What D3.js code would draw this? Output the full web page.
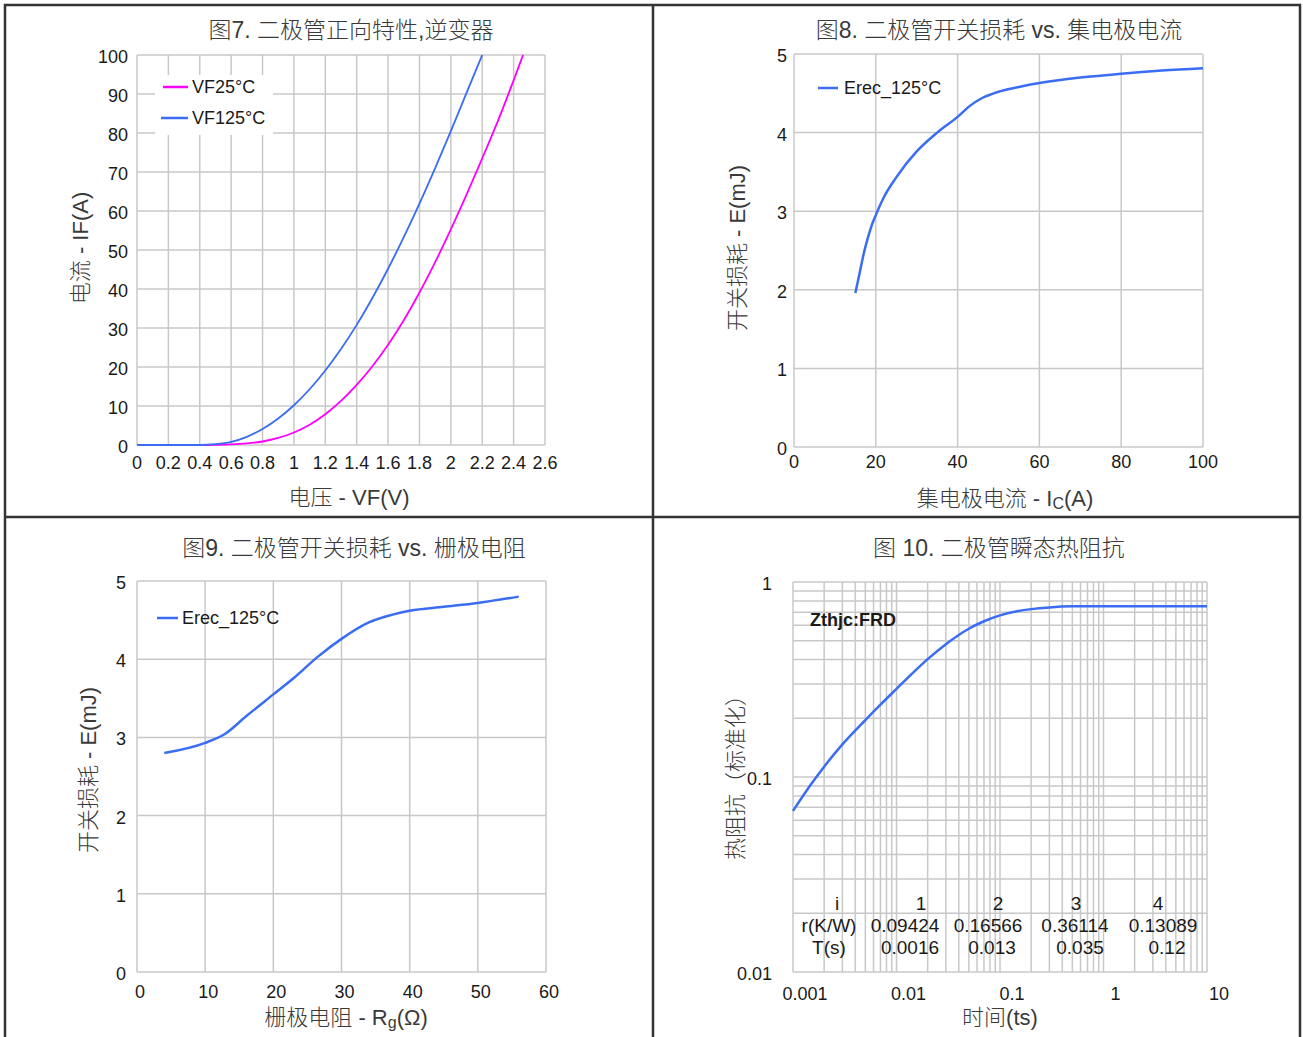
<!DOCTYPE html>
<html>
<head>
<meta charset="utf-8">
<script src="https://cdn.jsdelivr.net/npm/d3@7"></script>
<style>
  body { margin: 0; background: #fff; }
  text { font-family: "Liberation Sans", Arial, "Noto Sans CJK SC", sans-serif; fill: #1a1a1a; }
  .cjk { font-family: "Liberation Sans", "Noto Sans CJK SC", sans-serif; fill: #3a3a3a; font-weight: 300; }
</style>
</head>
<body>
<script>
// ---- data ----
// fig 7: forward characteristic, voltage (V) vs current (A)
const vf25V  = [0, 0.4, 0.5, 0.6, 0.7, 0.8, 0.9, 1.0, 1.1, 1.2, 1.3, 1.4, 1.5, 1.6, 1.7, 1.8, 1.9, 2.0, 2.1, 2.2, 2.3, 2.4, 2.46];
const vf25I  = [0, 0, 0.05, 0.15, 0.4, 0.9, 1.8, 3.2, 5.2, 7.9, 11.3, 15.4, 20.2, 25.7, 32, 39.1, 46.9, 55.3, 64.2, 73.5, 83.1, 93.5, 100];
const vf125V = [0, 0.4, 0.5, 0.6, 0.7, 0.8, 0.9, 1.0, 1.1, 1.2, 1.3, 1.4, 1.5, 1.6, 1.7, 1.8, 1.9, 2.0, 2.1, 2.2];
const vf125I = [0, 0, 0.2, 0.8, 2.1, 4.1, 6.8, 10.2, 14.3, 19.1, 24.6, 30.8, 37.7, 45.2, 53.3, 61.9, 71, 80.5, 90.3, 100];
const fig7XTicks = [0, 0.2, 0.4, 0.6, 0.8, 1, 1.2, 1.4, 1.6, 1.8, 2, 2.2, 2.4, 2.6];
const fig7YTicks = [0, 10, 20, 30, 40, 50, 60, 70, 80, 90, 100];

// fig 8: Erec vs collector current
const icA    = [15, 16, 17, 18, 19, 20, 22, 25, 30, 35, 40, 43, 46, 50, 55, 60, 70, 80, 90, 100];
const erecIc = [1.96, 2.2, 2.45, 2.65, 2.82, 2.95, 3.18, 3.43, 3.76, 4.0, 4.2, 4.34, 4.44, 4.52, 4.58, 4.63, 4.7, 4.75, 4.79, 4.82];
const fig8XTicks = [0, 20, 40, 60, 80, 100];
const eTicks = [0, 1, 2, 3, 4, 5];

// fig 9: Erec vs gate resistance
const rgOhm  = [4, 10, 13, 16, 20, 23, 26.5, 30, 34, 37.5, 40, 45, 50, 56];
const erecRg = [2.8, 2.93, 3.05, 3.27, 3.55, 3.76, 4.03, 4.26, 4.47, 4.57, 4.62, 4.67, 4.72, 4.8];
const fig9XTicks = [0, 10, 20, 30, 40, 50, 60];

// fig 10: transient thermal impedance
const timeS = [0.001, 0.0015, 0.002, 0.003, 0.005, 0.007, 0.01, 0.015, 0.02, 0.03, 0.05, 0.07, 0.1, 0.15, 0.2, 0.3, 0.5, 1, 2, 5, 10];
const zthjc = [0.067, 0.092, 0.113, 0.147, 0.196, 0.235, 0.283, 0.349, 0.402, 0.480, 0.576, 0.629, 0.674, 0.710, 0.726, 0.741, 0.750, 0.752, 0.752, 0.752, 0.752];
const fig10XTicks = [0.001, 0.01, 0.1, 1, 10];
const fig10YTicks = [0.01, 0.1, 1];
const tableHead = ["i", "1", "2", "3", "4"];
const tableR    = ["r(K/W)", "0.09424", "0.16566", "0.36114", "0.13089"];
const tableT    = ["T(s)", "0.0016", "0.013", "0.035", "0.12"];

const W = 1303, H = 1037;
const gridColor = "#c8c8c8";
const blue = "#3a6cf4";
const magenta = "#ff00ff";

// table column centres (layout)
const tableColX = [
  [837, 921, 998, 1076, 1158],
  [829, 905, 988, 1075, 1163],
  [829, 910, 992, 1080, 1167]
];

const svg = d3.select("body").append("svg").attr("width", W).attr("height", H);

// frame
svg.append("rect").attr("x", 5).attr("y", 5).attr("width", 1295).attr("height", 1040)
  .attr("fill", "none").attr("stroke", "#333").attr("stroke-width", 2.5);
svg.append("line").attr("x1", 653).attr("x2", 653).attr("y1", 5).attr("y2", H)
  .attr("stroke", "#333").attr("stroke-width", 2.5);
svg.append("line").attr("x1", 5).attr("x2", 1300).attr("y1", 517).attr("y2", 517)
  .attr("stroke", "#333").attr("stroke-width", 2.5);

function grid(g, x, y, xs, ys) {
  g.selectAll(null).data(xs).enter().append("line")
    .attr("x1", d => x(d)).attr("x2", d => x(d)).attr("y1", y.range()[0]).attr("y2", y.range()[1])
    .attr("stroke", gridColor).attr("stroke-width", 1.5);
  g.selectAll(null).data(ys).enter().append("line")
    .attr("y1", d => y(d)).attr("y2", d => y(d)).attr("x1", x.range()[0]).attr("x2", x.range()[1])
    .attr("stroke", gridColor).attr("stroke-width", 1.5);
}

function tickLabels(g, x, y, xs, ys, opt) {
  g.selectAll(null).data(xs).enter().append("text")
    .attr("x", d => x(d) + (opt.xdx || 0)).attr("y", y.range()[0] + opt.xdy)
    .attr("text-anchor", "middle").attr("dominant-baseline", "central")
    .attr("font-size", 18).text(opt.xfmt || (d => d));
  g.selectAll(null).data(ys).enter().append("text")
    .attr("x", x.range()[0] - opt.ydx).attr("y", d => y(d) + 2)
    .attr("text-anchor", "end").attr("dominant-baseline", "central")
    .attr("font-size", 18).text(opt.yfmt || (d => d));
}

function title(txt, cx, cy) {
  svg.append("text").attr("class", "cjk").attr("x", cx).attr("y", cy)
    .attr("text-anchor", "middle").attr("dominant-baseline", "central")
    .attr("font-size", 23).text(txt);
}

function yTitle(txt, cx, cy) {
  svg.append("text").attr("class", "cjk")
    .attr("transform", `translate(${cx},${cy}) rotate(-90)`)
    .attr("text-anchor", "middle").attr("dominant-baseline", "central")
    .attr("font-size", 22).text(txt);
}

function xTitle(cx, cy) {
  return svg.append("text").attr("class", "cjk").attr("x", cx).attr("y", cy)
    .attr("text-anchor", "middle").attr("dominant-baseline", "central").attr("font-size", 22);
}

function legendEntry(x0, len, tx, yc, color, label) {
  svg.append("line").attr("x1", x0).attr("x2", x0 + len).attr("y1", yc).attr("y2", yc)
    .attr("stroke", color).attr("stroke-width", 2.5);
  svg.append("text").attr("x", tx).attr("y", yc).attr("dominant-baseline", "central")
    .attr("font-size", 18).text(label);
}

function curve(x, y, xs, ys, color, w) {
  const pts = xs.map((d, i) => [d, ys[i]]);
  svg.append("path").datum(pts)
    .attr("fill", "none").attr("stroke", color).attr("stroke-width", w)
    .attr("d", d3.line().x(d => x(d[0])).y(d => y(d[1])).curve(d3.curveMonotoneX));
}

// ---------- Fig 7 ----------
{
  const x = d3.scaleLinear().domain([0, 2.6]).range([137, 545]);
  const y = d3.scaleLinear().domain([0, 100]).range([445, 55]);
  const g = svg.append("g");
  grid(g, x, y, fig7XTicks, fig7YTicks);
  // legend box hides grid
  svg.append("rect").attr("x", 155).attr("y", 75).attr("width", 118).attr("height", 60).attr("fill", "#fff");
  tickLabels(g, x, y, fig7XTicks, fig7YTicks, { xdy: 18, ydx: 9 });
  curve(x, y, vf25V, vf25I, magenta, 1.8);
  curve(x, y, vf125V, vf125I, blue, 1.8);
  legendEntry(163, 25, 192, 87, magenta, "VF25°C");
  legendEntry(161, 27, 192, 118, blue, "VF125°C");
  title("图7. 二极管正向特性,逆变器", 351, 30);
  yTitle("电流 - IF(A)", 80, 248);
  xTitle(349, 497).text("电压 - VF(V)");
}

// ---------- Fig 8 ----------
{
  const x = d3.scaleLinear().domain([0, 100]).range([794, 1203]);
  const y = d3.scaleLinear().domain([0, 5]).range([447, 54]);
  const g = svg.append("g");
  grid(g, x, y, fig8XTicks, eTicks);
  tickLabels(g, x, y, fig8XTicks, eTicks, { xdy: 15, ydx: 7 });
  curve(x, y, icA, erecIc, blue, 2.5);
  legendEntry(818, 20, 844, 88, blue, "Erec_125°C");
  title("图8. 二极管开关损耗 vs. 集电极电流", 999, 30);
  yTitle("开关损耗 - E(mJ)", 737, 248);
  const t = xTitle(1005, 498);
  t.append("tspan").text("集电极电流 - I");
  t.append("tspan").attr("font-size", 16).attr("dy", 5).text("C");
  t.append("tspan").attr("dy", -5).text("(A)");
}

// ---------- Fig 9 ----------
{
  const x = d3.scaleLinear().domain([0, 60]).range([137, 546]);
  const y = d3.scaleLinear().domain([0, 5]).range([972, 581]);
  const g = svg.append("g");
  grid(g, x, y, fig9XTicks, eTicks);
  tickLabels(g, x, y, fig9XTicks, eTicks, { xdy: 20, xdx: 3, ydx: 11 });
  curve(x, y, rgOhm, erecRg, blue, 2.5);
  legendEntry(157, 21, 182, 618, blue, "Erec_125°C");
  title("图9. 二极管开关损耗 vs. 栅极电阻", 354, 548);
  yTitle("开关损耗 - E(mJ)", 88, 770);
  const t = xTitle(346, 1017);
  t.append("tspan").text("栅极电阻 - R");
  t.append("tspan").attr("font-size", 16).attr("dy", 5).text("g");
  t.append("tspan").attr("dy", -5).text("(Ω)");
}

// ---------- Fig 10 ----------
{
  const x = d3.scaleLog().domain([0.001, 10]).range([793, 1207]);
  const y = d3.scaleLog().domain([0.01, 1]).range([972, 582]);
  const g = svg.append("g");
  grid(g, x, y, x.ticks(), y.ticks());
  tickLabels(g, x, y, fig10XTicks, fig10YTicks, {
    xdy: 22, xdx: 12, ydx: 21,
    xfmt: d => String(d), yfmt: d => String(d)
  });
  curve(x, y, timeS, zthjc, blue, 2.5);
  svg.append("text").attr("x", 810).attr("y", 620).attr("dominant-baseline", "central")
    .attr("font-size", 18).attr("font-weight", "bold").text("Zthjc:FRD");

  // Foster network table
  [tableHead, tableR, tableT].forEach((row, r) => {
    svg.selectAll(null).data(row).enter().append("text")
      .attr("x", (d, i) => tableColX[r][i])
      .attr("y", 903 + r * 22)
      .attr("text-anchor", "middle").attr("dominant-baseline", "central")
      .attr("font-size", 19).text(d => d);
  });

  title("图 10. 二极管瞬态热阻抗", 999, 548);
  yTitle("热阻抗（标准化）", 735, 772);
  xTitle(1000, 1017).text("时间(ts)");
}
</script>
</body>
</html>
